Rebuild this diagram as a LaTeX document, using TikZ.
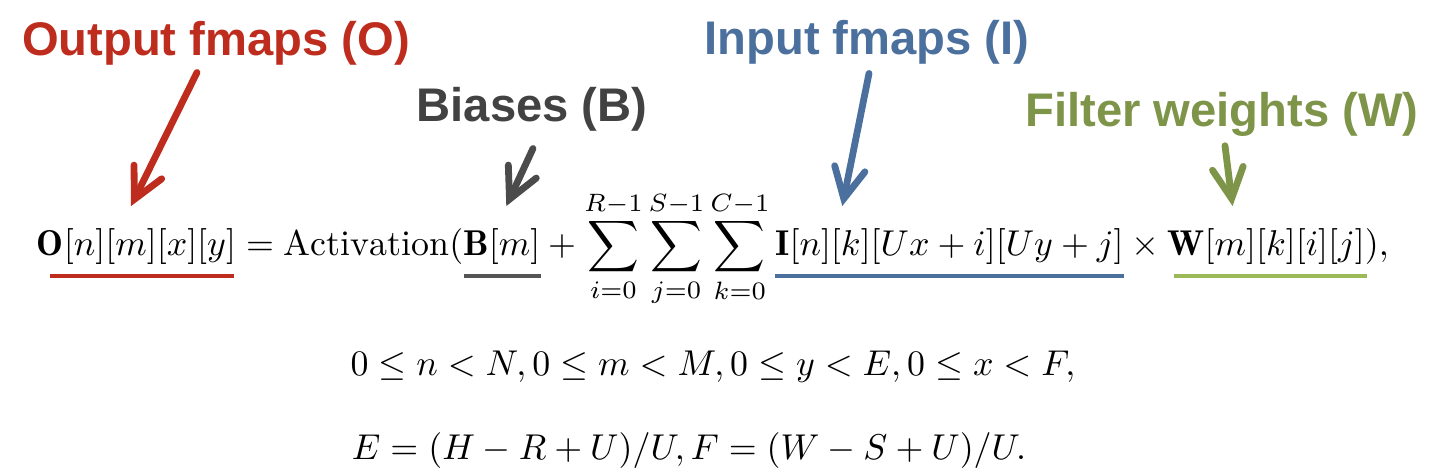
\documentclass[tikz,border=0pt]{standalone}
\usepackage{fontspec}
\newfontfamily\labelfont{Liberation Sans}
\usetikzlibrary{positioning,arrows.meta}
\definecolor{outred}{RGB}{190,44,30}
\definecolor{biasgray}{RGB}{66,66,66}
\definecolor{inblue}{RGB}{76,112,158}
\definecolor{filtgreen}{RGB}{126,148,72}
\definecolor{filtlight}{RGB}{155,187,89}
\begin{document}
\begin{tikzpicture}[x=0.0098cm, y=-0.0098cm,
	tag/.style={font={\labelfont\bfseries\fontsize{13.15pt}{16pt}\selectfont}, inner sep=0, anchor=base},
	part/.style={inner sep=0, outer sep=0},
	pointer/.style={line width=1.9pt, line cap=round, -{Straight Barb[length=8.5pt, width=8.6pt, line cap=round]}},
	mark line/.style={line width=1.15pt}]
	\useasboundingbox (0,0) rectangle (1452,476);

	% labels
	\node [tag, text=outred] (olab) at (216,56) {Output fmaps (O)};
	\node [tag, text=biasgray] (blab) at (532,122) {Biases (B)};
	\node [tag, text=inblue] (ilab) at (867,55) {Input fmaps (I)};
	\node [tag, text=filtgreen] (flab) at (1222,127) {Filter weights (W)};

	% main formula, piece by piece
	\node [part, anchor=base west] (out) at (37,256) {$\mathbf{O}[n][m][x][y]$};
	\node [part, base right=0pt of out] (act) {${}=\mathrm{Activation}($};
	\node [part, base right=0pt of act] (bias) {$\mathbf{B}[m]$};
	\node [part, base right=0pt of bias] (sums) {$\displaystyle{}+\sum_{i=0}^{R-1}\sum_{j=0}^{S-1}\sum_{k=0}^{C-1}{}$};
	\node [part, base right=0pt of sums] (inp) {$\mathbf{I}[n][k][Ux+i][Uy+j]$};
	\node [part, base right=0pt of inp] (times) {${}\times{}$};
	\node [part, base right=0pt of times] (wgt) {$\mathbf{W}[m][k][i][j]$};
	\node [part, base right=0pt of wgt] (tail) {$),$};

	\node [part, anchor=base] (range) at (713,376) {$0\leq n<N, 0\leq m<M, 0\leq y<E, 0\leq x<F,$};
	\node [part, anchor=base] (size) at (689,460) {$E=(H-R+U)/U, F=(W-S+U)/U.$};

	% underlines
	\draw [mark line, outred] ([shift={(13,20)}]out.base west) -- ([shift={(-2,20)}]out.base east);
	\draw [mark line, biasgray!90] ([shift={(1,20)}]bias.base west) -- ([shift={(1,20)}]bias.base east);
	\draw [mark line, inblue] ([shift={(0,20)}]inp.base west) -- ([shift={(0,20)}]inp.base east);
	\draw [mark line, filtlight] ([shift={(6,20)}]wgt.base west) -- ([shift={(2,20)}]wgt.base east);

	% pointers
	\draw [pointer, outred] ([shift={(-19,6)}]olab.south) -- ([shift={(94,-23)}]out.north west);
	\draw [pointer, biasgray!95] ([shift={(1,16)}]blab.south) -- ([shift={(43,-23)}]bias.north west);
	\draw [pointer, inblue] ([shift={(2,8)}]ilab.south) -- ([shift={(67,-23)}]inp.north west);
	\draw [pointer, filtgreen] ([shift={(3,8)}]flab.south) -- ([shift={(65,-23)}]wgt.north west);
\end{tikzpicture}
\end{document}
